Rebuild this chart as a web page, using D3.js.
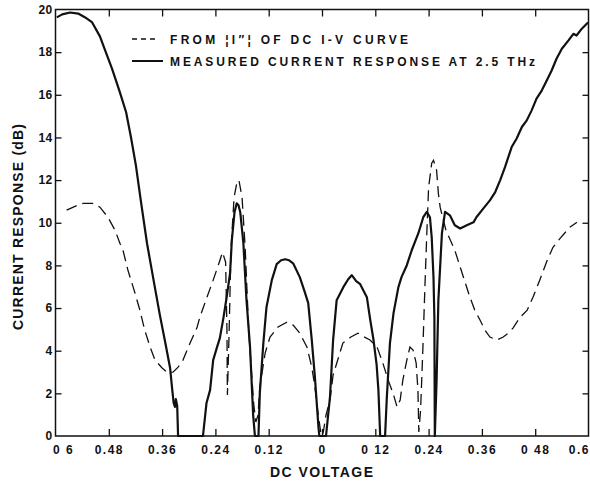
<!DOCTYPE html>
<html>
<head>
<meta charset="utf-8">
<title>Current response vs DC voltage</title>
<script src="https://d3js.org/d3.v7.min.js"></script>
<style>
  body { margin: 0; background: #fff; }
  text { font-family: 'Liberation Sans', Arial, sans-serif; font-weight: bold; fill: #111; }
</style>
</head>
<body>
<div id="chart"></div>
<script>
// ---- data (volts, dB) ----
const measuredVolts = [-0.597,-0.585,-0.567,-0.549,-0.534,-0.518,-0.500,-0.484,-0.473,-0.466,-0.455,-0.441,-0.430,-0.419,-0.408,-0.394,-0.378,-0.365,-0.353,-0.342,-0.338,-0.334,-0.331,-0.329,-0.326,-0.324,
  -0.268,-0.260,-0.252,-0.245,-0.237,-0.230,-0.222,-0.215,-0.207,-0.203,-0.197,-0.192,-0.188,-0.184,-0.177,-0.170,-0.162,-0.155,-0.151,
  -0.143,-0.140,-0.132,-0.125,-0.113,-0.102,-0.092,-0.083,-0.074,-0.065,-0.050,-0.038,-0.031,-0.023,-0.016,-0.008,-0.006,
  0.009,0.018,0.025,0.033,0.048,0.059,0.067,0.077,0.086,0.101,0.108,0.116,0.123,0.127,0.131,
  0.142,0.146,0.153,0.161,0.172,0.179,0.191,0.202,0.217,0.228,0.236,0.243,0.247,0.251,0.253,0.254,0.258,0.262,0.270,0.277,
  0.288,0.299,0.311,0.326,0.341,0.348,0.363,0.378,0.390,0.401,0.412,0.427,0.438,0.450,0.461,0.472,0.483,0.495,0.506,0.517,0.528,0.540,0.555,0.566,0.573,0.585,0.596,0.599];
const measuredDb = [19.63,19.77,19.86,19.81,19.64,19.41,18.74,17.85,17.24,16.81,16.11,15.18,14.00,12.69,11.05,9.04,7.17,5.67,4.40,3.19,2.34,1.55,1.36,1.73,1.41,0,
  0,1.55,2.15,3.56,4.12,4.59,5.53,6.46,7.63,9.18,10.49,10.91,10.82,10.49,9.04,6.37,4.17,0.98,0,
  0,2.01,4.36,6.04,7.31,8.06,8.24,8.29,8.24,8.10,7.45,6.70,6.23,4.50,2.76,0.42,0,
  0,1.83,4.50,6.37,6.98,7.35,7.54,7.26,7.12,6.51,5.53,4.50,3.33,2.15,0,
  0,1.83,4.36,5.76,6.98,7.45,8.01,8.71,9.51,10.26,10.51,10.26,9.32,7.45,5.57,0,2.62,6.37,9.51,10.51,
  10.35,9.88,9.73,9.88,10.02,10.27,10.66,11.05,11.44,11.99,12.61,13.55,13.94,14.49,14.80,15.27,15.82,16.21,16.67,17.14,17.69,18.16,18.55,18.86,18.78,19.10,19.33,19.39];

const ivVolts = [-0.575,-0.556,-0.538,-0.516,-0.500,-0.482,-0.466,-0.455,-0.448,-0.437,-0.421,-0.410,-0.399,-0.387,-0.376,-0.360,-0.347,-0.335,-0.324,-0.313,-0.297,-0.281,-0.275,-0.259,-0.245,-0.232,-0.224,
  -0.217,-0.214,-0.213,-0.209,-0.205,-0.198,-0.191,-0.187,-0.180,-0.173,-0.165,-0.161,-0.154,-0.149,-0.144,-0.140,-0.128,-0.117,-0.099,-0.079,-0.065,-0.050,-0.034,-0.023,-0.016,-0.009,-0.003,0,
  0.003,0.009,0.018,0.025,0.034,0.047,0.065,0.081,0.092,0.108,0.124,0.137,0.149,0.160,0.169,0.176,0.182,0.191,0.198,0.205,0.212,0.216,0.218,0.222,0.227,0.232,0.236,0.240,0.247,0.251,0.258,0.262,0.266,
  0.279,0.299,0.317,0.333,0.344,0.356,0.367,0.378,0.394,0.408,0.419,0.430,0.446,0.462,0.475,0.491,0.507,0.520,0.536,0.558,0.574];
const ivDb = [10.59,10.77,10.91,10.91,10.73,10.26,9.65,9.04,8.71,7.78,6.70,5.90,4.96,4.17,3.56,3.19,2.95,3.00,3.23,3.56,4.36,5.11,5.57,6.51,7.31,8.10,8.62,
  8.15,4.96,1.92,4.96,8.71,11.19,11.94,11.99,11.19,8.85,4.96,3.70,1.55,0.66,0.98,2.30,3.89,4.64,5.11,5.34,5.20,4.82,4.17,3.23,2.30,1.08,0.19,0,
  0.19,0.98,1.69,2.86,3.47,4.36,4.64,4.82,4.68,4.50,4.17,3.42,2.62,2.01,1.36,1.69,2.62,3.56,4.17,4.03,3.42,2.15,0.19,1.22,4.03,7.17,9.51,11.66,12.79,12.93,12.46,11.38,10.73,
  9.65,8.71,7.54,6.51,5.90,5.43,4.96,4.64,4.50,4.64,4.82,5.06,5.57,5.90,6.51,7.35,8.24,8.85,9.27,9.79,10.02];

const xTicks = [-0.6,-0.48,-0.36,-0.24,-0.12,0,0.12,0.24,0.36,0.48,0.6];
const xTickLabels = ["0 6","0.48","0.36","0.24","0.12","0","0 12","0.24","0.36","0 48","0.6"];
const yTicks = [0,2,4,6,8,10,12,14,16,18,20];

// ---- layout ----
const width = 590, height = 483;
const plotL = 55.5, plotR = 588.5, plotT = 9.5, plotB = 436;

const svg = d3.select("#chart").append("svg")
  .attr("width", width).attr("height", height);

const x = d3.scaleLinear().domain([-0.6, 0.6]).range([plotL, plotR]);
const y = d3.scaleLinear().domain([0, 20]).range([plotB, plotT]);

const inner = v => v > -0.6 && v < 0.6;
const innerY = v => v > 0 && v < 20;

// bottom axis with labels, ticks pointing in
const gx = svg.append("g").attr("transform", `translate(0,${plotB})`)
  .call(d3.axisBottom(x).tickValues(xTicks).tickSizeInner(-7).tickSizeOuter(0).tickPadding(9)
    .tickFormat((d, i) => xTickLabels[i]));
gx.selectAll(".tick text").style("font-size", "12px").style("letter-spacing", "1.5px").attr("fill", "#111");
gx.selectAll(".tick").filter(d => !inner(d)).select("line").remove();
gx.selectAll(".tick text").filter(d => d === -0.6).attr("text-anchor", "start").attr("x", -3);
gx.selectAll(".tick text").filter(d => d === 0.6).attr("text-anchor", "end").attr("x", 1);

const gy = svg.append("g").attr("transform", `translate(${plotL},0)`)
  .call(d3.axisLeft(y).tickValues(yTicks).tickSizeInner(-6).tickSizeOuter(0).tickPadding(3));
gy.selectAll(".tick text").style("font-size", "12px").style("letter-spacing", "0.3px").attr("fill", "#111");
gy.selectAll(".tick").filter(d => !innerY(d)).select("line").remove();

const gt = svg.append("g").attr("transform", `translate(0,${plotT})`)
  .call(d3.axisTop(x).tickValues(xTicks.filter(inner)).tickSizeInner(-7).tickSizeOuter(0).tickFormat(""));
const gr = svg.append("g").attr("transform", `translate(${plotR},0)`)
  .call(d3.axisRight(y).tickValues(yTicks.filter(innerY)).tickSizeInner(-6).tickSizeOuter(0).tickFormat(""));

[gx, gy, gt, gr].forEach(g => {
  g.select(".domain").remove();
  g.selectAll(".tick line").attr("stroke", "#111").attr("stroke-width", 1.3);
});

svg.append("rect")
  .attr("x", plotL).attr("y", plotT)
  .attr("width", plotR - plotL).attr("height", plotB - plotT)
  .attr("fill", "none").attr("stroke", "#111").attr("stroke-width", 1.5);

// ---- curves ----
const line = d3.line().x(d => x(d[0])).y(d => y(d[1]));

svg.append("path")
  .datum(d3.zip(ivVolts, ivDb))
  .attr("d", line)
  .attr("fill", "none").attr("stroke", "#111").attr("stroke-width", 1.3)
  .attr("stroke-dasharray", "11,6");

svg.append("path")
  .datum(d3.zip(measuredVolts, measuredDb))
  .attr("d", line)
  .attr("fill", "none").attr("stroke", "#111").attr("stroke-width", 2.2)
  .attr("stroke-linejoin", "round");

// ---- legend ----
svg.append("line").attr("x1", 132).attr("x2", 157).attr("y1", 39).attr("y2", 39)
  .attr("stroke", "#111").attr("stroke-width", 1.3).attr("stroke-dasharray", "5,4");
svg.append("line").attr("x1", 132).attr("x2", 163).attr("y1", 61).attr("y2", 61)
  .attr("stroke", "#111").attr("stroke-width", 2);
svg.append("text").attr("x", 170).attr("y", 43.5)
  .attr("textLength", 238).attr("lengthAdjust", "spacing").style("font-size", "12px")
  .text("FROM \u00a6I\u2033\u00a6 OF DC I-V CURVE");
svg.append("text").attr("x", 170).attr("y", 65.5)
  .attr("textLength", 365).attr("lengthAdjust", "spacing").style("font-size", "12px")
  .text("MEASURED CURRENT RESPONSE AT 2.5 THz");

// ---- axis titles ----
svg.append("text").attr("x", 270).attr("y", 477)
  .attr("textLength", 103).attr("lengthAdjust", "spacing").style("font-size", "14px")
  .text("DC VOLTAGE");
svg.append("text")
  .attr("transform", `translate(22.5,330) rotate(-90)`)
  .attr("textLength", 206).attr("lengthAdjust", "spacing").style("font-size", "14px")
  .text("CURRENT RESPONSE (dB)");
</script>
</body>
</html>
